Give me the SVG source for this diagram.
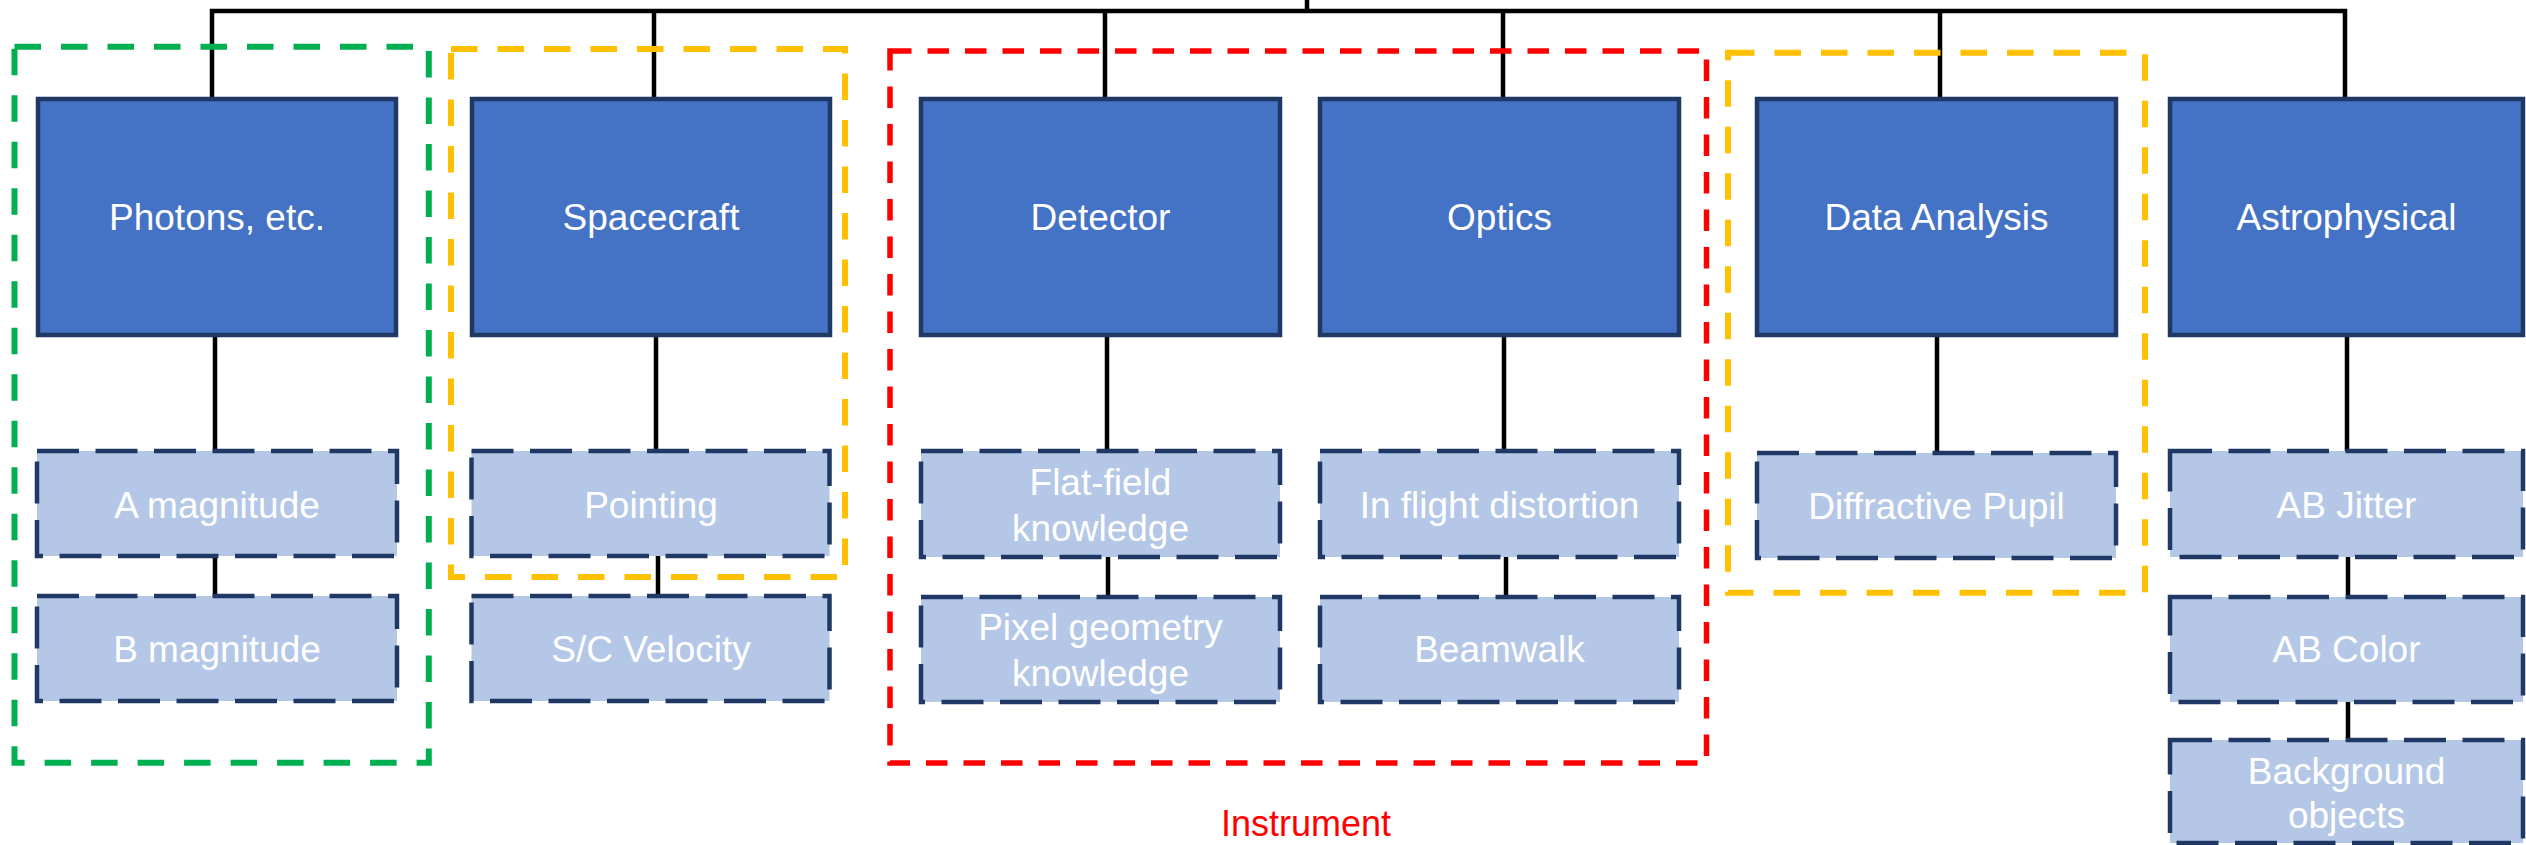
<svg xmlns="http://www.w3.org/2000/svg" width="2526" height="845" viewBox="0 0 2526 845">
<style>
.top{fill:#4472C4;stroke:#1F3864;stroke-width:4.5}
.sub{fill:#B4C7E7;stroke:#1F3864;stroke-width:4.5;stroke-dasharray:42 16.5}
.t{font-family:"Liberation Sans",Arial,sans-serif;font-size:37px;fill:#FFFFFF;text-anchor:middle}
.c{fill:none;stroke:#000000;stroke-width:4.5}
.grp{fill:none;stroke-width:6;stroke-dasharray:26.5 20}
.green{stroke:#00B050}
.yellow{stroke:#FFC000}
.red{stroke:#FF0000;stroke-width:5.5;stroke-dasharray:21.5 16}
.lbl{font-family:"Liberation Sans",Arial,sans-serif;font-size:36px;fill:#FF0000;text-anchor:middle}
</style>
<rect width="2526" height="845" fill="#FFFFFF"/>
<g id="connectors">
<path class="c" d="M1307,0 V11"/>
<path class="c" d="M212,97 V11 H2345 V97"/>
<path class="c" d="M654,11 V97"/>
<path class="c" d="M1105,11 V97"/>
<path class="c" d="M1503,11 V97"/>
<path class="c" d="M1940,11 V97"/>
<path class="c" d="M215,337 V451"/>
<path class="c" d="M656,337 V451"/>
<path class="c" d="M1107,337 V451"/>
<path class="c" d="M1504,337 V451"/>
<path class="c" d="M1937,337 V453"/>
<path class="c" d="M2347,337 V451"/>
<path class="c" d="M215,556 V596"/>
<path class="c" d="M658,556 V596"/>
<path class="c" d="M1108,556 V596"/>
<path class="c" d="M1506,556 V596"/>
<path class="c" d="M2348,556 V596"/>
<path class="c" d="M2348,701 V739"/>
</g>
<g id="groups">
<rect id="group-photons" class="grp green" x="14.5" y="46.7" width="414.3" height="716"/>
<rect id="group-spacecraft" class="grp yellow" x="451" y="49" width="394" height="528"/>
<rect id="group-instrument" class="grp red" x="890" y="51" width="816.5" height="712"/>
<rect id="group-data" class="grp yellow" x="1728" y="52.7" width="417" height="540"/>
</g>
<g id="node-photons"><rect class="top" x="38" y="99" width="358" height="236"/><text class="t" x="217" y="230">Photons, etc.</text></g>
<g id="node-spacecraft"><rect class="top" x="472" y="99" width="358" height="236"/><text class="t" x="651" y="230">Spacecraft</text></g>
<g id="node-detector"><rect class="top" x="921" y="99" width="359" height="236"/><text class="t" x="1100.5" y="230">Detector</text></g>
<g id="node-optics"><rect class="top" x="1320" y="99" width="359" height="236"/><text class="t" x="1499.5" y="230">Optics</text></g>
<g id="node-data"><rect class="top" x="1757" y="99" width="359" height="236"/><text class="t" x="1936.5" y="230">Data Analysis</text></g>
<g id="node-astro"><rect class="top" x="2170" y="99" width="353" height="236"/><text class="t" x="2346.5" y="230">Astrophysical</text></g>

<g id="node-amag"><rect class="sub" x="37" y="451" width="360" height="105"/><text class="t" x="217" y="517.5">A magnitude</text></g>
<g id="node-bmag"><rect class="sub" x="37" y="596" width="360" height="105"/><text class="t" x="217" y="662">B magnitude</text></g>
<g id="node-pointing"><rect class="sub" x="471.5" y="451" width="358" height="105"/><text class="t" x="651" y="517.5">Pointing</text></g>
<g id="node-scvel"><rect class="sub" x="471.5" y="596" width="358" height="105"/><text class="t" x="651" y="662">S/C Velocity</text></g>
<g id="node-flat"><rect class="sub" x="921" y="451" width="359" height="106"/><text class="t" x="1100.5" y="495">Flat-field</text><text class="t" x="1100.5" y="541">knowledge</text></g>
<g id="node-pixel"><rect class="sub" x="921" y="597" width="359" height="105"/><text class="t" x="1100.5" y="640">Pixel geometry</text><text class="t" x="1100.5" y="686">knowledge</text></g>
<g id="node-distortion"><rect class="sub" x="1320" y="451" width="359" height="106"/><text class="t" x="1499.5" y="517.5">In flight distortion</text></g>
<g id="node-beamwalk"><rect class="sub" x="1320" y="597" width="359" height="105"/><text class="t" x="1499.5" y="662">Beamwalk</text></g>
<g id="node-pupil"><rect class="sub" x="1757" y="453" width="359" height="105"/><text class="t" x="1936.5" y="518.5">Diffractive Pupil</text></g>
<g id="node-jitter"><rect class="sub" x="2170" y="451" width="353" height="106"/><text class="t" x="2346.5" y="517.5">AB Jitter</text></g>
<g id="node-color"><rect class="sub" x="2170" y="597" width="353" height="105"/><text class="t" x="2346.5" y="662">AB Color</text></g>
<g id="node-background"><rect class="sub" x="2170" y="740" width="353" height="103"/><text class="t" x="2346.5" y="784">Background</text><text class="t" x="2346.5" y="828">objects</text></g>

<text id="label-instrument" class="lbl" x="1306" y="836">Instrument</text>
</svg>
